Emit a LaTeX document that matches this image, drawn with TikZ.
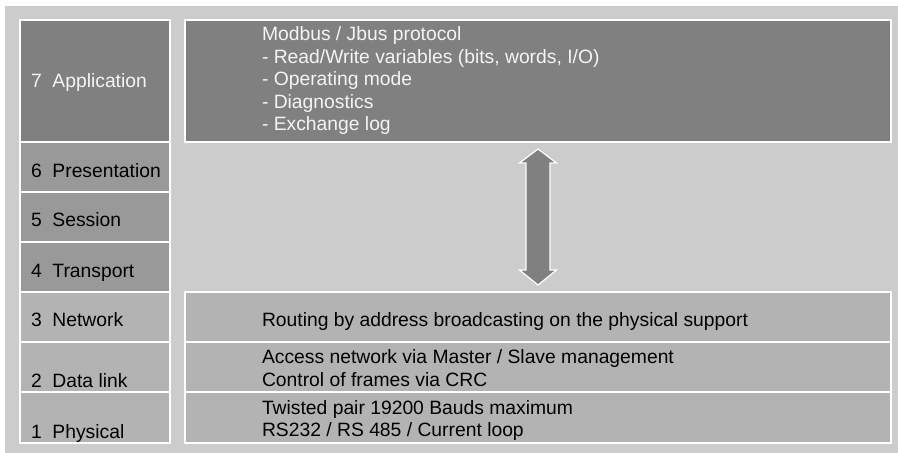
\documentclass[tikz,border=0pt]{standalone}
\usepackage{fontspec}
\setmainfont{Liberation Sans}
\definecolor{bg}{HTML}{CCCCCC}
\definecolor{dark}{HTML}{808080}
\definecolor{mid}{HTML}{999999}
\definecolor{light}{HTML}{B3B3B3}
\definecolor{pale}{HTML}{F4F4F4}
\begin{document}
\begin{tikzpicture}[x=1pt,y=-1pt,
  cell/.style={draw=white, line width=1.3pt, inner sep=0pt, outer sep=0pt},
  lcell/.style={cell, minimum width=150pt},
  rcell/.style={cell, minimum width=706pt},
  txt/.style={anchor=base west, inner sep=0pt, outer sep=0pt,
              font=\fontsize{19.3}{22.6}\selectfont},
  wtxt/.style={txt, text=pale}]
\useasboundingbox (0,0) rectangle (898,453);
\fill[bg] (5,6) rectangle (898,453);

% OSI layer column
\node[lcell, fill=dark,  minimum height=122pt] (app)   at (95,81)    {};
\node[lcell, fill=mid,   minimum height=50pt]  (pres)  at (95,167)   {};
\node[lcell, fill=mid,   minimum height=50pt]  (sess)  at (95,217)   {};
\node[lcell, fill=mid,   minimum height=50pt]  (trans) at (95,267)   {};
\node[lcell, fill=light, minimum height=50pt]  (net)   at (95,317)   {};
\node[lcell, fill=light, minimum height=50pt]  (dl)    at (95,367)   {};
\node[lcell, fill=light, minimum height=51pt]  (phys)  at (95,417.5) {};

% Modbus column
\node[rcell, fill=dark,  minimum height=122pt] (rapp)  at (538,81)    {};
\node[rcell, fill=light, minimum height=50pt]  (rnet)  at (538,317)   {};
\node[rcell, fill=light, minimum height=50pt]  (rdl)   at (538,367)   {};
\node[rcell, fill=light, minimum height=51pt]  (rphys) at (538,417.5) {};

% double arrow between application and network layers
\filldraw[fill=dark, draw=white, line width=1.2pt, line join=miter]
  (538,149) -- (556.5,163) -- (550,163) -- (550,270) -- (556.5,270)
  -- (538,285) -- (519.5,270) -- (526,270) -- (526,163) -- (519.5,163) -- cycle;

% layer names
\node[wtxt] (t7) at (31,87)  {7\hspace{0.556em}Application};
\node[txt]  (t6) at (31,177) {6\hspace{0.556em}Presentation};
\node[txt]  (t5) at (31,226) {5\hspace{0.556em}Session};
\node[txt]  (t4) at (31,277) {4\hspace{0.556em}Transport};
\node[txt]  (t3) at (31,326) {3\hspace{0.556em}Network};
\node[txt]  (t2) at (31,387) {2\hspace{0.556em}Data link};
\node[txt]  (t1) at (31,438) {1\hspace{0.556em}Physical};

% Modbus services
\node[wtxt] (a1) at (262,40.5)  {Modbus / Jbus protocol};
\node[wtxt] (a2) at (262,63)    {- Read/Write variables (bits, words, I/O)};
\node[wtxt] (a3) at (262,85.5)  {- Operating mode};
\node[wtxt] (a4) at (262,108)   {- Diagnostics};
\node[wtxt] (a5) at (262,130.5) {- Exchange log};

\node[txt] (n1) at (262,326) {Routing by address broadcasting on the physical support};
\node[txt] (d1) at (262,363.5) {Access network via Master / Slave management};
\node[txt] (d2) at (262,386)   {Control of frames via CRC};
\node[txt] (p1) at (262,414)   {Twisted pair 19200 Bauds maximum};
\node[txt] (p2) at (262,436.5) {RS232 / RS 485 / Current loop};
\end{tikzpicture}
\end{document}
